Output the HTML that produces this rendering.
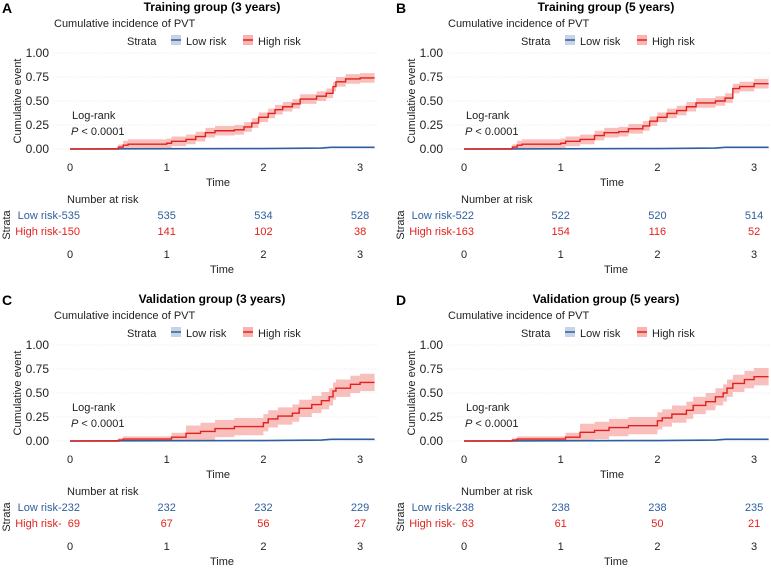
<!DOCTYPE html>
<html><head><meta charset="utf-8"><style>
body{margin:0;background:#fff;}
svg{display:block;font-family:"Liberation Sans",sans-serif;}
</style></head><body>
<svg id="s" width="771" height="569" viewBox="0 0 771 569" xmlns="http://www.w3.org/2000/svg"></svg>
<script>
const S=document.getElementById('s');
let out='';
const panels=[
 {dx:0,dy:0,L:'A',t:'Training group (3 years)',low:[535,535,534,528],high:[150,141,102,38],
  h:[[0,0],[0.5,0.02],[0.55,0.04],[0.6,0.05],[1.0,0.06],[1.05,0.08],[1.2,0.1],[1.3,0.13],[1.4,0.17],[1.5,0.19],[1.7,0.2],[1.8,0.23],[1.88,0.27],[1.95,0.33],[2.05,0.37],[2.12,0.41],[2.2,0.44],[2.3,0.47],[2.38,0.52],[2.55,0.55],[2.65,0.58],[2.72,0.65],[2.75,0.7],[2.85,0.73],[3.0,0.74]],bw:0.05},
 {dx:394,dy:0,L:'B',t:'Training group (5 years)',low:[522,522,520,514],high:[163,154,116,52],
  h:[[0,0],[0.5,0.02],[0.55,0.04],[0.6,0.05],[1.0,0.06],[1.05,0.08],[1.2,0.1],[1.35,0.14],[1.45,0.17],[1.6,0.18],[1.7,0.21],[1.85,0.24],[1.92,0.29],[2.0,0.33],[2.1,0.37],[2.2,0.4],[2.3,0.44],[2.4,0.48],[2.6,0.5],[2.7,0.53],[2.78,0.63],[2.85,0.65],[3.0,0.68]],bw:0.05},
 {dx:0,dy:292,L:'C',t:'Validation group (3 years)',low:[232,232,232,229],high:[69,67,56,27],
  h:[[0,0],[0.5,0.01],[0.55,0.02],[1.05,0.04],[1.2,0.08],[1.35,0.1],[1.5,0.13],[1.7,0.15],[2.0,0.19],[2.05,0.23],[2.15,0.26],[2.3,0.29],[2.37,0.34],[2.5,0.38],[2.6,0.42],[2.68,0.46],[2.72,0.52],[2.75,0.55],[2.9,0.59],[3.0,0.61]],bw:0.09},
 {dx:394,dy:292,L:'D',t:'Validation group (5 years)',low:[238,238,238,235],high:[63,61,50,21],
  h:[[0,0],[0.5,0.01],[0.55,0.02],[1.05,0.04],[1.2,0.09],[1.35,0.11],[1.5,0.14],[1.7,0.16],[2.0,0.21],[2.05,0.24],[2.15,0.28],[2.3,0.32],[2.37,0.37],[2.5,0.41],[2.6,0.46],[2.68,0.5],[2.72,0.55],[2.78,0.6],[2.9,0.64],[3.0,0.67]],bw:0.09}
];
for(const p of panels){
 const X=t=>p.dx+70+t*96.7, Y=v=>p.dy+149-v*96;
 const x0=p.dx+53,x1=p.dx+378;
 out+=`<text x="${p.dx+2}" y="${p.dy+13}" font-size="14" font-weight="bold">${p.L}</text>`;
 out+=`<text x="${p.dx+212}" y="${p.dy+11}" font-size="12" font-weight="bold" text-anchor="middle">${p.t}</text>`;
 out+=`<text x="${p.dx+54}" y="${p.dy+27}" font-size="11" fill="#222">Cumulative incidence of PVT</text>`;
 out+=`<text x="${p.dx+127}" y="${p.dy+45}" font-size="11" fill="#222">Strata</text>`;
 out+=`<rect x="${p.dx+171}" y="${p.dy+35}" width="10" height="10" fill="#c6d4e6"/><line x1="${p.dx+171}" x2="${p.dx+181}" y1="${p.dy+40}" y2="${p.dy+40}" stroke="#2f5f9e" stroke-width="1.5"/>`;
 out+=`<text x="${p.dx+186}" y="${p.dy+45}" font-size="11" fill="#222">Low risk</text>`;
 out+=`<rect x="${p.dx+243}" y="${p.dy+35}" width="10" height="10" fill="#f8b4b0"/><line x1="${p.dx+243}" x2="${p.dx+253}" y1="${p.dy+40}" y2="${p.dy+40}" stroke="#e3211c" stroke-width="1.5"/>`;
 out+=`<text x="${p.dx+258}" y="${p.dy+45}" font-size="11" fill="#222">High risk</text>`;
 for(const v of [0,0.25,0.5,0.75,1]){
  out+=`<line x1="${x0}" x2="${x1}" y1="${Y(v)}" y2="${Y(v)}" stroke="#ddd" stroke-width="0.6" stroke-dasharray="1.5,1.5"/>`;
  out+=`<text x="${p.dx+49}" y="${Y(v)+4}" font-size="12" text-anchor="end" fill="#222">${v.toFixed(2)}</text>`;
 }
 out+=`<text transform="translate(${p.dx+21},${p.dy+101}) rotate(-90)" font-size="11" text-anchor="middle" fill="#222">Cumulative event</text>`;
 for(let i=0;i<4;i++){
  out+=`<text x="${X(i)}" y="${p.dy+171}" font-size="11" text-anchor="middle" fill="#222">${i}</text>`;
  out+=`<text x="${X(i)}" y="${p.dy+258}" font-size="11" text-anchor="middle" fill="#222">${i}</text>`;
  if(i>0){
  out+=`<text x="${X(i)}" y="${p.dy+219}" font-size="11" text-anchor="middle" fill="#2f5f9e">${p.low[i]}</text>`;
  out+=`<text x="${X(i)}" y="${p.dy+235}" font-size="11" text-anchor="middle" fill="#e3211c">${p.high[i]}</text>`;}
 }
 out+=`<text x="${p.dx+218}" y="${p.dy+186}" font-size="11" fill="#222" text-anchor="middle">Time</text>`;
 out+=`<text x="${p.dx+222}" y="${p.dy+273}" font-size="11" fill="#222" text-anchor="middle">Time</text>`;
 out+=`<text x="${p.dx+67}" y="${p.dy+203}" font-size="11" fill="#222">Number at risk</text>`;
 out+=`<text x="${p.dx+80}" y="${p.dy+219}" font-size="11" fill="#2f5f9e" text-anchor="end">Low risk-${p.low[0]}</text>`;
 out+=`<text x="${p.dx+80}" y="${p.dy+235}" font-size="11" fill="#e3211c" text-anchor="end">High risk-${String(p.high[0]).padStart(3,'\u2007')}</text>`;
 out+=`<text transform="translate(${p.dx+10},${p.dy+225}) rotate(-90)" font-size="11" text-anchor="middle" fill="#222">Strata</text>`;
 out+=`<text x="${p.dx+72}" y="${p.dy+119}" font-size="11" fill="#222">Log-rank</text>`;
 out+=`<text x="${p.dx+71}" y="${p.dy+135}" font-size="11" fill="#222"><tspan font-style="italic">P</tspan> &lt; 0.0001</text>`;
 const h=p.h, tend=3.15;
 let upPts=[],dnPts=[];
 for(let i=0;i<h.length;i++){
  const t=h[i][0], tn=i+1<h.length?h[i+1][0]:tend, v=h[i][1];
  const b=v==0?0:Math.min(p.bw,v*0.9+0.01);
  const u=v+b, d=Math.max(0,v-b);
  upPts.push(`${X(t)},${Y(u)}`,`${X(tn)},${Y(u)}`);
  dnPts.push(`${X(t)},${Y(d)}`,`${X(tn)},${Y(d)}`);
 }
 out+=`<polygon points="${upPts.join(' ')} ${dnPts.reverse().join(' ')}" fill="#f8b4b0" opacity="0.85"/>`;
 out+=`<polyline points="${X(0)},${Y(0)} ${X(2)},${Y(0.005)} ${X(2.6)},${Y(0.01)} ${X(2.7)},${Y(0.018)} ${X(tend)},${Y(0.018)}" fill="none" stroke="#2f5f9e" stroke-width="1.6"/>`;
 let pts='';
 for(let i=0;i<h.length;i++){
  const t=h[i][0], tn=i+1<h.length?h[i+1][0]:tend;
  pts+=`${X(t)},${Y(h[i][1])} ${X(tn)},${Y(h[i][1])} `;
 }
 out+=`<polyline points="${pts}" fill="none" stroke="#e3211c" stroke-width="1.4"/>`;
}
S.innerHTML=out;
</script>
</body></html>
